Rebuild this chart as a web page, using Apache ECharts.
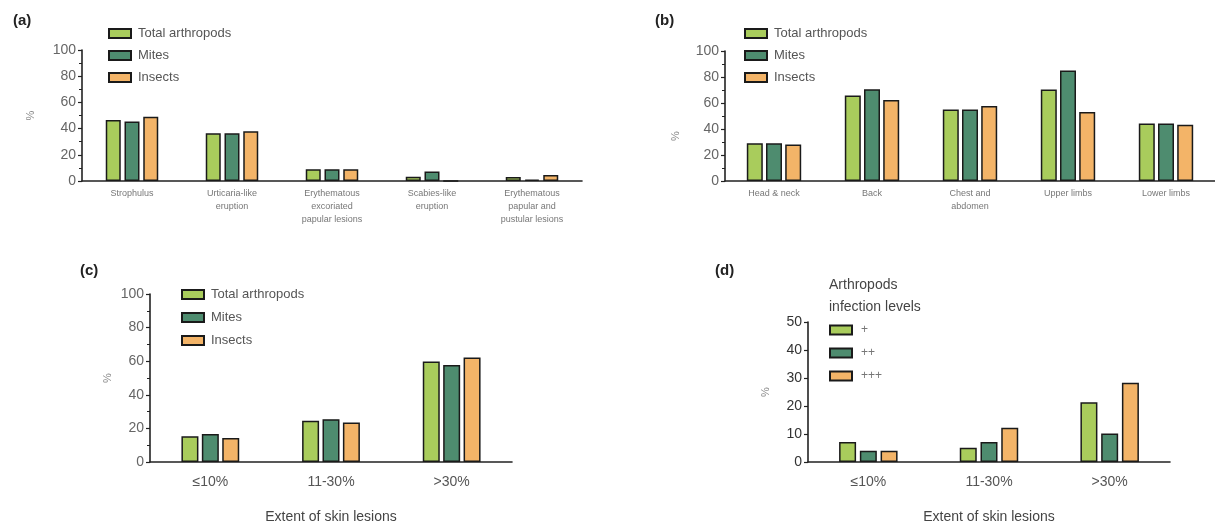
<!DOCTYPE html>
<html><head><meta charset="utf-8">
<script src="https://cdn.jsdelivr.net/npm/echarts@6/dist/echarts.min.js"></script>
<style>html,body{margin:0;padding:0;background:#fff}#c{width:1215px;height:525px}</style>
</head><body><div id="c"></div>
<script>
// ---- data ----
const seriesNames = ['Total arthropods', 'Mites', 'Insects'];
const levelNames = ['+', '++', '+++'];

const catsA = ['Strophulus', 'Urticaria-like\neruption', 'Erythematous\nexcoriated\npapular lesions', 'Scabies-like\neruption', 'Erythematous\npapular and\npustular lesions'];
const totalA = [46.5, 36.4, 9, 3.3, 3];
const mitesA = [45.5, 36.4, 9, 7.2, 1];
const insectsA = [49, 38, 9, 0, 4.6];

const catsB = ['Head & neck', 'Back', 'Chest and\nabdomen', 'Upper limbs', 'Lower limbs'];
const totalB = [29, 65.8, 55, 70.4, 44.3];
const mitesB = [29, 70.6, 55, 85, 44.3];
const insectsB = [28, 62.3, 57.7, 53, 43.3];

const catsC = ['≤10%', '11-30%', '>30%'];
const totalC = [15.3, 24.5, 59.8];
const mitesC = [16.7, 25.5, 57.8];
const insectsC = [14.3, 23.5, 62.2];

const catsD = ['≤10%', '11-30%', '>30%'];
const plus1D = [7.1, 5.1, 21.3];
const plus2D = [4.0, 7.1, 10.2];
const plus3D = [4.0, 12.2, 28.3];

// ---- styling ----
const colors = ['#a9cc5c', '#4e8c6f', '#f3b468'];
const FONT = 'Liberation Sans, Arial, sans-serif';
const chart = echarts.init(document.getElementById('c'));

function bar(name, data, idx, ci, w, gap) {
  return {
    type: 'bar', name: name, data: data, xAxisIndex: idx, yAxisIndex: idx,
    barWidth: w, barGap: gap,
    itemStyle: { color: colors[ci], borderColor: '#1a1a1a', borderWidth: 1.5 },
    emphasis: { disabled: true }, animation: false
  };
}
function xAx(idx, cats, fs, name) {
  return {
    type: 'category', gridIndex: idx, data: cats,
    axisLine: { lineStyle: { color: '#222', width: 1.6 } },
    axisTick: { show: false },
    axisLabel: { color: fs < 12 ? '#777' : '#555', fontSize: fs, fontFamily: FONT, margin: fs < 12 ? 6 : 12, lineHeight: fs < 12 ? 13 : 16, interval: 0 },
    name: name || '', nameLocation: 'middle', nameGap: 48,
    nameTextStyle: { color: '#444', fontSize: 14, fontFamily: FONT }
  };
}
function yAx(idx, max, interval, minor, color, gap) {
  return {
    type: 'value', gridIndex: idx, min: 0, max: max, interval: interval,
    axisLine: { show: true, lineStyle: { color: '#222', width: 1.6 } },
    axisTick: { show: true, length: 4, lineStyle: { color: '#222', width: 1.2 } },
    minorTick: { show: minor, splitNumber: 2, length: 3, lineStyle: { color: '#222', width: 1 } },
    splitLine: { show: false },
    axisLabel: { color: color, fontSize: 14, fontFamily: FONT, margin: 6 },
    name: '%', nameLocation: 'middle', nameRotate: 90, nameGap: gap,
    nameTextStyle: { color: '#888', fontSize: 11, fontFamily: FONT }
  };
}
function leg(names, left, top, gap, fs) {
  return {
    data: names, left: left, top: top, orient: 'vertical', itemWidth: 22, itemHeight: 9,
    itemGap: gap, icon: 'rect', selectedMode: false,
    textStyle: { color: '#555', fontSize: fs, fontFamily: FONT, padding: [0, 0, 0, 2] }
  };
}

const option = {
  animation: false,
  grid: [
    { left: 82, top: 50, width: 500, height: 131 },
    { left: 725, top: 51, width: 500, height: 130 },
    { left: 150, top: 294, width: 362, height: 169 },
    { left: 808, top: 322, width: 362, height: 145 }
  ],
  xAxis: [
    xAx(0, catsA, 9),
    xAx(1, catsB, 9),
    xAx(2, catsC, 14, 'Extent of skin lesions'),
    xAx(3, catsD, 14, 'Extent of skin lesions')
  ],
  yAxis: [
    yAx(0, 100, 20, true, '#666', 46),
    { ...yAx(1, 100, 20, true, '#666', 44), nameTextStyle: { color: '#888', fontSize: 11, fontFamily: FONT, padding: [0, 0, 0, -40] } },
    yAx(2, 100, 20, true, '#666', 37),
    yAx(3, 50, 10, false, '#333', 37)
  ],
  legend: [
    leg(seriesNames, 103, 22, 9, 13),
    leg(seriesNames, 739, 22, 9, 13),
    leg(seriesNames, 176, 283, 10, 13),
    { ...leg(levelNames, 824, 319, 11, 12), textStyle: { color: '#777', fontSize: 12, fontFamily: FONT, padding: [0, 0, 0, 4] } }
  ],
  title: [
    { text: '(a)', left: 8, top: 8, textStyle: { fontSize: 15, fontWeight: 'bold', color: '#222', fontFamily: FONT } },
    { text: '(b)', left: 650, top: 8, textStyle: { fontSize: 15, fontWeight: 'bold', color: '#222', fontFamily: FONT } },
    { text: '(c)', left: 75, top: 258, textStyle: { fontSize: 15, fontWeight: 'bold', color: '#222', fontFamily: FONT } },
    { text: '(d)', left: 710, top: 258, textStyle: { fontSize: 15, fontWeight: 'bold', color: '#222', fontFamily: FONT } },
    { text: 'Arthropods\ninfection levels', left: 824, top: 269, textStyle: { fontSize: 14, fontWeight: 'normal', color: '#444', fontFamily: FONT, lineHeight: 22 } }
  ],
  series: [
    bar(seriesNames[0], totalA, 0, 0, 15, '25%'),
    bar(seriesNames[1], mitesA, 0, 1, 15, '25%'),
    bar(seriesNames[2], insectsA, 0, 2, 15, '25%'),
    bar(seriesNames[0], totalB, 1, 0, 16, '20%'),
    bar(seriesNames[1], mitesB, 1, 1, 16, '20%'),
    bar(seriesNames[2], insectsB, 1, 2, 16, '20%'),
    bar(seriesNames[0], totalC, 2, 0, 17, '20%'),
    bar(seriesNames[1], mitesC, 2, 1, 17, '20%'),
    bar(seriesNames[2], insectsC, 2, 2, 17, '20%'),
    bar(levelNames[0], plus1D, 3, 0, 17, '22%'),
    bar(levelNames[1], plus2D, 3, 1, 17, '22%'),
    bar(levelNames[2], plus3D, 3, 2, 17, '22%')
  ]
};
chart.setOption(option);
</script></body></html>
